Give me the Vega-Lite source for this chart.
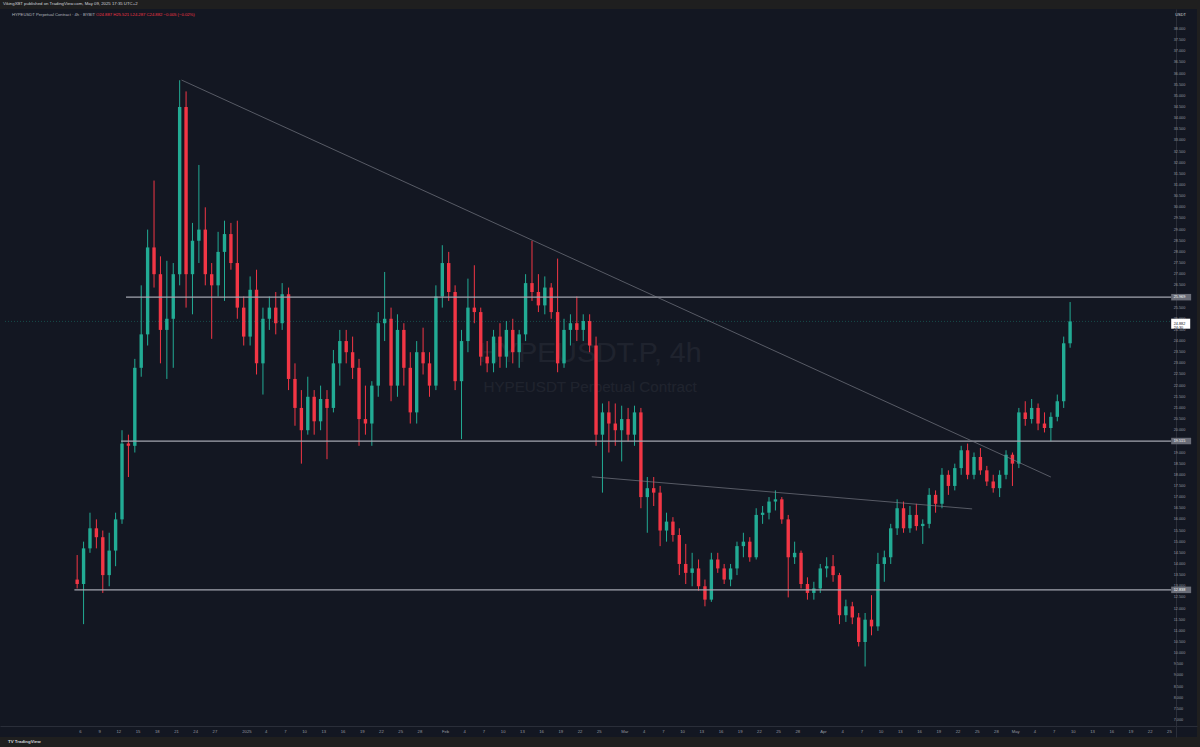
{
  "$schema": "https://vega.github.io/schema/vega-lite/v6.json",
  "width": 1197,
  "height": 728,
  "autosize": {"type": "none"},
  "padding": {"left": 0, "top": 9, "right": 3, "bottom": 10},
  "background": "#1f1f1f",
  "config": {
    "view": {"fill": "#131722", "stroke": null},
    "font": "Liberation Sans",
    "axisX": {"offset": -11, "ticks": false, "grid": false, "labels": false, "domainColor": "#2a2e39"},
    "axisY": {"offset": -21, "ticks": false, "grid": false, "labels": false, "domainColor": "#2a2e39"}
  },
  "title": {"text": "VikingXBT published on TradingView.com, May 09, 2025 17:35 UTC+2", "anchor": "start", "fontSize": 4.3, "color": "#d1d4dc", "fontWeight": "normal", "offset": 2.3, "dx": 3, "font": "Liberation Sans"},
  "datasets": {
    "candles": [
      {"t": "2024-12-05T12:00:00", "o": 13.3, "h": 14.4, "l": 12.9, "c": 13.1},
      {"t": "2024-12-06T12:00:00", "o": 13.1, "h": 15.0, "l": 11.3, "c": 14.7},
      {"t": "2024-12-07T12:00:00", "o": 14.7, "h": 16.3, "l": 14.5, "c": 15.6},
      {"t": "2024-12-08T12:00:00", "o": 15.6, "h": 16.0, "l": 14.7, "c": 15.2},
      {"t": "2024-12-09T12:00:00", "o": 15.2, "h": 15.5, "l": 12.7, "c": 13.5},
      {"t": "2024-12-10T12:00:00", "o": 13.5, "h": 15.4, "l": 13.0, "c": 14.6},
      {"t": "2024-12-11T12:00:00", "o": 14.6, "h": 16.3, "l": 13.9, "c": 16.0},
      {"t": "2024-12-12T12:00:00", "o": 16.0, "h": 20.0, "l": 15.8, "c": 19.4},
      {"t": "2024-12-13T12:00:00", "o": 19.4, "h": 19.8, "l": 17.9, "c": 19.3},
      {"t": "2024-12-14T12:00:00", "o": 19.3, "h": 23.2, "l": 19.0, "c": 22.8},
      {"t": "2024-12-15T12:00:00", "o": 22.8, "h": 26.5, "l": 22.4, "c": 24.3},
      {"t": "2024-12-16T12:00:00", "o": 24.3, "h": 29.0, "l": 23.8, "c": 28.2},
      {"t": "2024-12-17T12:00:00", "o": 28.2, "h": 31.2, "l": 26.4, "c": 27.0},
      {"t": "2024-12-18T12:00:00", "o": 27.0, "h": 27.8, "l": 23.0, "c": 24.5},
      {"t": "2024-12-19T12:00:00", "o": 24.5, "h": 27.6, "l": 22.3, "c": 25.0},
      {"t": "2024-12-20T12:00:00", "o": 25.0, "h": 27.5, "l": 22.8, "c": 27.0},
      {"t": "2024-12-21T12:00:00", "o": 27.0, "h": 35.7, "l": 26.5, "c": 34.5},
      {"t": "2024-12-22T12:00:00", "o": 34.5, "h": 35.2, "l": 25.5, "c": 27.0},
      {"t": "2024-12-23T12:00:00", "o": 27.0, "h": 29.3, "l": 25.2, "c": 28.5},
      {"t": "2024-12-24T12:00:00", "o": 28.5, "h": 31.9, "l": 27.5, "c": 29.0},
      {"t": "2024-12-25T12:00:00", "o": 29.0, "h": 30.0, "l": 26.5, "c": 27.0},
      {"t": "2024-12-26T12:00:00", "o": 27.0, "h": 27.5, "l": 24.1, "c": 26.5},
      {"t": "2024-12-27T12:00:00", "o": 26.5, "h": 28.9, "l": 26.0, "c": 28.0},
      {"t": "2024-12-28T12:00:00", "o": 28.0, "h": 29.4, "l": 25.8, "c": 28.8},
      {"t": "2024-12-29T12:00:00", "o": 28.8, "h": 29.3, "l": 27.2, "c": 27.5},
      {"t": "2024-12-30T12:00:00", "o": 27.5, "h": 29.4, "l": 25.0, "c": 25.5},
      {"t": "2024-12-31T12:00:00", "o": 25.5, "h": 26.0, "l": 23.8, "c": 24.2},
      {"t": "2025-01-01T12:00:00", "o": 24.2, "h": 26.9, "l": 23.8, "c": 26.3},
      {"t": "2025-01-02T12:00:00", "o": 26.3, "h": 27.2, "l": 22.5, "c": 23.0},
      {"t": "2025-01-03T12:00:00", "o": 23.0, "h": 25.5, "l": 21.6, "c": 25.0},
      {"t": "2025-01-04T12:00:00", "o": 25.0, "h": 26.0, "l": 24.5, "c": 25.5},
      {"t": "2025-01-05T12:00:00", "o": 25.5, "h": 26.2, "l": 24.3, "c": 24.8},
      {"t": "2025-01-06T12:00:00", "o": 24.8, "h": 26.6, "l": 24.5, "c": 26.1},
      {"t": "2025-01-07T12:00:00", "o": 26.1, "h": 26.4, "l": 21.8, "c": 22.3},
      {"t": "2025-01-08T12:00:00", "o": 22.3, "h": 23.0, "l": 20.2, "c": 21.0},
      {"t": "2025-01-09T12:00:00", "o": 21.0, "h": 21.8, "l": 18.5, "c": 20.0},
      {"t": "2025-01-10T12:00:00", "o": 20.0, "h": 22.4, "l": 19.8, "c": 21.5},
      {"t": "2025-01-11T12:00:00", "o": 21.5, "h": 21.8, "l": 19.8, "c": 20.4},
      {"t": "2025-01-12T12:00:00", "o": 20.4, "h": 22.0, "l": 20.0, "c": 21.4},
      {"t": "2025-01-13T12:00:00", "o": 21.4, "h": 21.8, "l": 18.7, "c": 21.0},
      {"t": "2025-01-14T12:00:00", "o": 21.0, "h": 23.6, "l": 20.8, "c": 23.0},
      {"t": "2025-01-15T12:00:00", "o": 23.0, "h": 24.5, "l": 22.0, "c": 24.0},
      {"t": "2025-01-16T12:00:00", "o": 24.0, "h": 24.5, "l": 23.0, "c": 23.5},
      {"t": "2025-01-17T12:00:00", "o": 23.5, "h": 24.2, "l": 22.3, "c": 22.8},
      {"t": "2025-01-18T12:00:00", "o": 22.8, "h": 23.2, "l": 19.3, "c": 20.5},
      {"t": "2025-01-19T12:00:00", "o": 20.5, "h": 22.0, "l": 19.8, "c": 20.3},
      {"t": "2025-01-20T12:00:00", "o": 20.3, "h": 22.2, "l": 19.3, "c": 22.0},
      {"t": "2025-01-21T12:00:00", "o": 22.0, "h": 25.3, "l": 21.5, "c": 24.8},
      {"t": "2025-01-22T12:00:00", "o": 24.8, "h": 27.1, "l": 24.0, "c": 25.0},
      {"t": "2025-01-23T12:00:00", "o": 25.0, "h": 25.5, "l": 21.3, "c": 22.0},
      {"t": "2025-01-24T12:00:00", "o": 22.0, "h": 25.2, "l": 21.5, "c": 24.5},
      {"t": "2025-01-25T12:00:00", "o": 24.5, "h": 24.8, "l": 22.0, "c": 22.8},
      {"t": "2025-01-26T12:00:00", "o": 22.8, "h": 23.5, "l": 20.3, "c": 20.8},
      {"t": "2025-01-27T12:00:00", "o": 20.8, "h": 24.0, "l": 20.3, "c": 23.5},
      {"t": "2025-01-28T12:00:00", "o": 23.5, "h": 24.6, "l": 22.5, "c": 23.0},
      {"t": "2025-01-29T12:00:00", "o": 23.0, "h": 23.5, "l": 21.5, "c": 22.0},
      {"t": "2025-01-30T12:00:00", "o": 22.0, "h": 26.5, "l": 21.8, "c": 26.0},
      {"t": "2025-01-31T12:00:00", "o": 26.0, "h": 28.3, "l": 25.5, "c": 27.5},
      {"t": "2025-02-01T12:00:00", "o": 27.5, "h": 28.0, "l": 25.8, "c": 26.2},
      {"t": "2025-02-02T12:00:00", "o": 26.2, "h": 26.5, "l": 21.8, "c": 22.2},
      {"t": "2025-02-03T12:00:00", "o": 22.2, "h": 24.5, "l": 19.6, "c": 24.0},
      {"t": "2025-02-04T12:00:00", "o": 24.0, "h": 26.8, "l": 23.5, "c": 25.5},
      {"t": "2025-02-05T12:00:00", "o": 25.5, "h": 27.4, "l": 24.8, "c": 25.3},
      {"t": "2025-02-06T12:00:00", "o": 25.3, "h": 25.5, "l": 22.9, "c": 23.3},
      {"t": "2025-02-07T12:00:00", "o": 23.3, "h": 24.0, "l": 22.6, "c": 23.0},
      {"t": "2025-02-08T12:00:00", "o": 23.0, "h": 24.5, "l": 22.6, "c": 24.2},
      {"t": "2025-02-09T12:00:00", "o": 24.2, "h": 24.8, "l": 22.8, "c": 23.3},
      {"t": "2025-02-10T12:00:00", "o": 23.3, "h": 24.9, "l": 22.8, "c": 24.5},
      {"t": "2025-02-11T12:00:00", "o": 24.5, "h": 25.0, "l": 23.0, "c": 23.5},
      {"t": "2025-02-12T12:00:00", "o": 23.5, "h": 24.5, "l": 22.8, "c": 24.3},
      {"t": "2025-02-13T12:00:00", "o": 24.3, "h": 27.0, "l": 24.0, "c": 26.6},
      {"t": "2025-02-14T12:00:00", "o": 26.6, "h": 28.5, "l": 25.8, "c": 26.2},
      {"t": "2025-02-15T12:00:00", "o": 26.2, "h": 27.0, "l": 25.3, "c": 25.6},
      {"t": "2025-02-16T12:00:00", "o": 25.6, "h": 26.9, "l": 25.2, "c": 26.4},
      {"t": "2025-02-17T12:00:00", "o": 26.4, "h": 26.6, "l": 25.0, "c": 25.3},
      {"t": "2025-02-18T12:00:00", "o": 25.3, "h": 27.7, "l": 22.6, "c": 23.0},
      {"t": "2025-02-19T12:00:00", "o": 23.0, "h": 25.0, "l": 22.8, "c": 24.5},
      {"t": "2025-02-20T12:00:00", "o": 24.5, "h": 25.2, "l": 23.8, "c": 24.8},
      {"t": "2025-02-21T12:00:00", "o": 24.8, "h": 26.0, "l": 24.0, "c": 24.5},
      {"t": "2025-02-22T12:00:00", "o": 24.5, "h": 25.2, "l": 24.0, "c": 24.9},
      {"t": "2025-02-23T12:00:00", "o": 24.9, "h": 25.2, "l": 23.5, "c": 23.8},
      {"t": "2025-02-24T12:00:00", "o": 23.8, "h": 24.2, "l": 19.3, "c": 19.8},
      {"t": "2025-02-25T12:00:00", "o": 19.8, "h": 21.2, "l": 17.2, "c": 20.8},
      {"t": "2025-02-26T12:00:00", "o": 20.8, "h": 21.3, "l": 19.0, "c": 20.3},
      {"t": "2025-02-27T12:00:00", "o": 20.3, "h": 21.2, "l": 19.3, "c": 20.0},
      {"t": "2025-02-28T12:00:00", "o": 20.0, "h": 21.1, "l": 18.6, "c": 20.5},
      {"t": "2025-03-01T12:00:00", "o": 20.5, "h": 21.0, "l": 19.5, "c": 19.8},
      {"t": "2025-03-02T12:00:00", "o": 19.8, "h": 21.1, "l": 19.3, "c": 20.8},
      {"t": "2025-03-03T12:00:00", "o": 20.8, "h": 21.0, "l": 16.5, "c": 17.0},
      {"t": "2025-03-04T12:00:00", "o": 17.0, "h": 17.9, "l": 15.4, "c": 17.4},
      {"t": "2025-03-05T12:00:00", "o": 17.4, "h": 17.9, "l": 16.6, "c": 17.2},
      {"t": "2025-03-06T12:00:00", "o": 17.2, "h": 17.5, "l": 14.8, "c": 15.5},
      {"t": "2025-03-07T12:00:00", "o": 15.5, "h": 16.3, "l": 15.0, "c": 15.9},
      {"t": "2025-03-08T12:00:00", "o": 15.9, "h": 16.1, "l": 15.0, "c": 15.3},
      {"t": "2025-03-09T12:00:00", "o": 15.3, "h": 15.6, "l": 13.5, "c": 14.0},
      {"t": "2025-03-10T12:00:00", "o": 14.0, "h": 14.9, "l": 13.1, "c": 13.6},
      {"t": "2025-03-11T12:00:00", "o": 13.6, "h": 14.5, "l": 13.0, "c": 13.8},
      {"t": "2025-03-12T12:00:00", "o": 13.8, "h": 14.2, "l": 12.8, "c": 13.0},
      {"t": "2025-03-13T12:00:00", "o": 13.0, "h": 13.3, "l": 12.1, "c": 12.4},
      {"t": "2025-03-14T12:00:00", "o": 12.4, "h": 14.5, "l": 12.3, "c": 14.2},
      {"t": "2025-03-15T12:00:00", "o": 14.2, "h": 14.5, "l": 13.6, "c": 13.8},
      {"t": "2025-03-16T12:00:00", "o": 13.8, "h": 14.0, "l": 13.1, "c": 13.3},
      {"t": "2025-03-17T12:00:00", "o": 13.3, "h": 14.0, "l": 13.0, "c": 13.8},
      {"t": "2025-03-18T12:00:00", "o": 13.8, "h": 15.0, "l": 13.5, "c": 14.8},
      {"t": "2025-03-19T12:00:00", "o": 14.8, "h": 15.4, "l": 14.3, "c": 15.0},
      {"t": "2025-03-20T12:00:00", "o": 15.0, "h": 15.2, "l": 14.1, "c": 14.3},
      {"t": "2025-03-21T12:00:00", "o": 14.3, "h": 16.5, "l": 14.2, "c": 16.2},
      {"t": "2025-03-22T12:00:00", "o": 16.2, "h": 16.6, "l": 15.8, "c": 16.3},
      {"t": "2025-03-23T12:00:00", "o": 16.3, "h": 17.0, "l": 16.0, "c": 16.8},
      {"t": "2025-03-24T12:00:00", "o": 16.8, "h": 17.3, "l": 16.4, "c": 16.9},
      {"t": "2025-03-25T12:00:00", "o": 16.9, "h": 17.0, "l": 15.8, "c": 16.0},
      {"t": "2025-03-26T12:00:00", "o": 16.0, "h": 16.2, "l": 12.5, "c": 14.3},
      {"t": "2025-03-27T12:00:00", "o": 14.3, "h": 15.0, "l": 14.0, "c": 14.5},
      {"t": "2025-03-28T12:00:00", "o": 14.5, "h": 14.6, "l": 12.9, "c": 13.1},
      {"t": "2025-03-29T12:00:00", "o": 13.1, "h": 13.4, "l": 12.4, "c": 12.7},
      {"t": "2025-03-30T12:00:00", "o": 12.7, "h": 13.2, "l": 12.4, "c": 12.9},
      {"t": "2025-03-31T12:00:00", "o": 12.9, "h": 14.0, "l": 12.7, "c": 13.8},
      {"t": "2025-04-01T12:00:00", "o": 13.8, "h": 14.3, "l": 13.4, "c": 13.9},
      {"t": "2025-04-02T12:00:00", "o": 13.9, "h": 14.4, "l": 13.2, "c": 13.5},
      {"t": "2025-04-03T12:00:00", "o": 13.5, "h": 13.6, "l": 11.3, "c": 11.7},
      {"t": "2025-04-04T12:00:00", "o": 11.7, "h": 12.4, "l": 11.4, "c": 12.1},
      {"t": "2025-04-05T12:00:00", "o": 12.1, "h": 12.3, "l": 11.3, "c": 11.6},
      {"t": "2025-04-06T12:00:00", "o": 11.6, "h": 11.8, "l": 10.3, "c": 10.5},
      {"t": "2025-04-07T12:00:00", "o": 10.5, "h": 11.8, "l": 9.4, "c": 11.5},
      {"t": "2025-04-08T12:00:00", "o": 11.5, "h": 12.6, "l": 10.8, "c": 11.2},
      {"t": "2025-04-09T12:00:00", "o": 11.2, "h": 14.5, "l": 11.0, "c": 14.0},
      {"t": "2025-04-10T12:00:00", "o": 14.0, "h": 14.6, "l": 13.2, "c": 14.3},
      {"t": "2025-04-11T12:00:00", "o": 14.3, "h": 15.8, "l": 14.0, "c": 15.6},
      {"t": "2025-04-12T12:00:00", "o": 15.6, "h": 16.9, "l": 15.3, "c": 16.5},
      {"t": "2025-04-13T12:00:00", "o": 16.5, "h": 16.8, "l": 15.4, "c": 15.6},
      {"t": "2025-04-14T12:00:00", "o": 15.6, "h": 16.6, "l": 15.4, "c": 16.2},
      {"t": "2025-04-15T12:00:00", "o": 16.2, "h": 16.7, "l": 15.5, "c": 15.7},
      {"t": "2025-04-16T12:00:00", "o": 15.7, "h": 16.0, "l": 14.9, "c": 15.8},
      {"t": "2025-04-17T12:00:00", "o": 15.8, "h": 17.4, "l": 15.6, "c": 17.1},
      {"t": "2025-04-18T12:00:00", "o": 17.1, "h": 17.3, "l": 16.3, "c": 16.7},
      {"t": "2025-04-19T12:00:00", "o": 16.7, "h": 18.3, "l": 16.5, "c": 18.0},
      {"t": "2025-04-20T12:00:00", "o": 18.0, "h": 18.2, "l": 17.1, "c": 17.5},
      {"t": "2025-04-21T12:00:00", "o": 17.5, "h": 18.5, "l": 17.3, "c": 18.3},
      {"t": "2025-04-22T12:00:00", "o": 18.3, "h": 19.3, "l": 18.0, "c": 19.1},
      {"t": "2025-04-23T12:00:00", "o": 19.1, "h": 19.4, "l": 17.8, "c": 18.0},
      {"t": "2025-04-24T12:00:00", "o": 18.0, "h": 19.0, "l": 17.8, "c": 18.8},
      {"t": "2025-04-25T12:00:00", "o": 18.8, "h": 19.2, "l": 18.0, "c": 18.2},
      {"t": "2025-04-26T12:00:00", "o": 18.2, "h": 18.4, "l": 17.5, "c": 17.7},
      {"t": "2025-04-27T12:00:00", "o": 17.7, "h": 18.0, "l": 17.2, "c": 17.4},
      {"t": "2025-04-28T12:00:00", "o": 17.4, "h": 18.2, "l": 17.0, "c": 18.0},
      {"t": "2025-04-29T12:00:00", "o": 18.0, "h": 19.1, "l": 17.8, "c": 18.9},
      {"t": "2025-04-30T12:00:00", "o": 18.9, "h": 19.0, "l": 17.5, "c": 18.5},
      {"t": "2025-05-01T12:00:00", "o": 18.5, "h": 21.0, "l": 18.3, "c": 20.8},
      {"t": "2025-05-02T12:00:00", "o": 20.8, "h": 21.3, "l": 20.2, "c": 20.5},
      {"t": "2025-05-03T12:00:00", "o": 20.5, "h": 21.4, "l": 20.3, "c": 21.0},
      {"t": "2025-05-04T12:00:00", "o": 21.0, "h": 21.2, "l": 20.0, "c": 20.3},
      {"t": "2025-05-05T12:00:00", "o": 20.3, "h": 20.8, "l": 19.9, "c": 20.1},
      {"t": "2025-05-06T12:00:00", "o": 20.1, "h": 20.8, "l": 19.5, "c": 20.6},
      {"t": "2025-05-07T12:00:00", "o": 20.6, "h": 21.6, "l": 20.4, "c": 21.3},
      {"t": "2025-05-08T12:00:00", "o": 21.3, "h": 24.2, "l": 21.0, "c": 23.9},
      {"t": "2025-05-09T12:00:00", "o": 23.9, "h": 25.75, "l": 23.7, "c": 24.882}
    ],
    "rays": [
      {"start": "2024-12-13T03:00:00", "level": 25.969},
      {"start": "2024-12-12T08:30:00", "level": 19.515},
      {"start": "2024-12-05T01:40:00", "level": 12.838}
    ],
    "trends": [
      {"ts": "2024-12-21T19:00:00", "ps": 35.71, "te": "2025-05-06T12:00:00", "pe": 17.90},
      {"ts": "2025-02-23T20:00:00", "ps": 17.91, "te": "2025-04-24T05:00:00", "pe": 16.47}
    ],
    "tags": [
      {"level": 25.969, "label": "25.969"},
      {"level": 19.515, "label": "19.515"},
      {"level": 12.838, "label": "12.838"}
    ],
    "xt": [
      {"d": "2024-12-06T00:00:00", "lab": "6"}, {"d": "2024-12-09T00:00:00", "lab": "9"}, {"d": "2024-12-12T00:00:00", "lab": "12"}, {"d": "2024-12-15T00:00:00", "lab": "15"}, {"d": "2024-12-18T00:00:00", "lab": "18"}, {"d": "2024-12-21T00:00:00", "lab": "21"}, {"d": "2024-12-24T00:00:00", "lab": "24"}, {"d": "2024-12-27T00:00:00", "lab": "27"},
      {"d": "2025-01-01T00:00:00", "lab": "2025"}, {"d": "2025-01-04T00:00:00", "lab": "4"}, {"d": "2025-01-07T00:00:00", "lab": "7"}, {"d": "2025-01-10T00:00:00", "lab": "10"}, {"d": "2025-01-13T00:00:00", "lab": "13"}, {"d": "2025-01-16T00:00:00", "lab": "16"}, {"d": "2025-01-19T00:00:00", "lab": "19"}, {"d": "2025-01-22T00:00:00", "lab": "22"}, {"d": "2025-01-25T00:00:00", "lab": "25"}, {"d": "2025-01-28T00:00:00", "lab": "28"},
      {"d": "2025-02-01T00:00:00", "lab": "Feb"}, {"d": "2025-02-04T00:00:00", "lab": "4"}, {"d": "2025-02-07T00:00:00", "lab": "7"}, {"d": "2025-02-10T00:00:00", "lab": "10"}, {"d": "2025-02-13T00:00:00", "lab": "13"}, {"d": "2025-02-16T00:00:00", "lab": "16"}, {"d": "2025-02-19T00:00:00", "lab": "19"}, {"d": "2025-02-22T00:00:00", "lab": "22"}, {"d": "2025-02-25T00:00:00", "lab": "25"},
      {"d": "2025-03-01T00:00:00", "lab": "Mar"}, {"d": "2025-03-04T00:00:00", "lab": "4"}, {"d": "2025-03-07T00:00:00", "lab": "7"}, {"d": "2025-03-10T00:00:00", "lab": "10"}, {"d": "2025-03-13T00:00:00", "lab": "13"}, {"d": "2025-03-16T00:00:00", "lab": "16"}, {"d": "2025-03-19T00:00:00", "lab": "19"}, {"d": "2025-03-22T00:00:00", "lab": "22"}, {"d": "2025-03-25T00:00:00", "lab": "25"}, {"d": "2025-03-28T00:00:00", "lab": "28"},
      {"d": "2025-04-01T00:00:00", "lab": "Apr"}, {"d": "2025-04-04T00:00:00", "lab": "4"}, {"d": "2025-04-07T00:00:00", "lab": "7"}, {"d": "2025-04-10T00:00:00", "lab": "10"}, {"d": "2025-04-13T00:00:00", "lab": "13"}, {"d": "2025-04-16T00:00:00", "lab": "16"}, {"d": "2025-04-19T00:00:00", "lab": "19"}, {"d": "2025-04-22T00:00:00", "lab": "22"}, {"d": "2025-04-25T00:00:00", "lab": "25"}, {"d": "2025-04-28T00:00:00", "lab": "28"},
      {"d": "2025-05-01T00:00:00", "lab": "May"}, {"d": "2025-05-04T00:00:00", "lab": "4"}, {"d": "2025-05-07T00:00:00", "lab": "7"}, {"d": "2025-05-10T00:00:00", "lab": "10"}, {"d": "2025-05-13T00:00:00", "lab": "13"}, {"d": "2025-05-16T00:00:00", "lab": "16"}, {"d": "2025-05-19T00:00:00", "lab": "19"}, {"d": "2025-05-22T00:00:00", "lab": "22"}, {"d": "2025-05-25T00:00:00", "lab": "25"}
    ],
    "yt": [
      {"v": 7}, {"v": 7.5}, {"v": 8}, {"v": 8.5}, {"v": 9}, {"v": 9.5}, {"v": 10}, {"v": 10.5}, {"v": 11}, {"v": 11.5}, {"v": 12}, {"v": 12.5}, {"v": 13}, {"v": 13.5}, {"v": 14}, {"v": 14.5}, {"v": 15}, {"v": 15.5}, {"v": 16}, {"v": 16.5}, {"v": 17}, {"v": 17.5}, {"v": 18}, {"v": 18.5}, {"v": 19}, {"v": 19.5}, {"v": 20}, {"v": 20.5}, {"v": 21}, {"v": 21.5}, {"v": 22}, {"v": 22.5}, {"v": 23}, {"v": 23.5}, {"v": 24}, {"v": 24.5}, {"v": 25}, {"v": 25.5}, {"v": 26}, {"v": 26.5}, {"v": 27}, {"v": 27.5}, {"v": 28}, {"v": 28.5}, {"v": 29}, {"v": 29.5}, {"v": 30}, {"v": 30.5}, {"v": 31}, {"v": 31.5}, {"v": 32}, {"v": 32.5}, {"v": 33}, {"v": 33.5}, {"v": 34}, {"v": 34.5}, {"v": 35}, {"v": 35.5}, {"v": 36}, {"v": 36.5}, {"v": 37}, {"v": 37.5}, {"v": 38}
    ],
    "one": [{"k": 1}]
  },
  "layer": [
    {
      "data": {"name": "one"},
      "mark": {"type": "text", "fontSize": 28.5, "color": "#ffffff", "opacity": 0.05, "align": "center", "baseline": "middle", "font": "Liberation Sans"},
      "encoding": {
        "x": {"datum": {"year": 2025, "month": 2, "date": 23, "hours": 13, "minutes": 40}, "type": "temporal", "title": null},
        "y": {"datum": 23.46, "type": "quantitative", "title": null, "axis": {"orient": "right"}},
        "text": {"value": "HYPEUSDT.P, 4h"}
      }
    },
    {
      "data": {"name": "one"},
      "mark": {"type": "text", "fontSize": 15.2, "color": "#ffffff", "opacity": 0.05, "align": "center", "baseline": "middle", "font": "Liberation Sans"},
      "encoding": {
        "x": {"datum": {"year": 2025, "month": 2, "date": 23, "hours": 13, "minutes": 40}, "type": "temporal", "title": null},
        "y": {"datum": 21.94, "type": "quantitative", "title": null, "axis": {"orient": "right"}},
        "text": {"value": "HYPEUSDT Perpetual Contract"}
      }
    },
    {
      "data": {"name": "candles"},
      "mark": {"type": "rule", "strokeWidth": 1},
      "encoding": {
        "x": {"field": "t", "type": "temporal", "title": null,
          "scale": {"domain": [{"year": 2024, "month": 11, "date": 24, "hours": 5, "minutes": 38}, {"year": 2025, "month": 5, "date": 28, "hours": 12, "minutes": 43}], "nice": false},
          "axis": {"orient": "bottom", "title": null}
        },
        "y": {"field": "l", "type": "quantitative", "title": null,
          "scale": {"domain": [6.237, 38.897], "nice": false, "zero": false},
          "axis": {"orient": "right", "title": null}
        },
        "y2": {"field": "h"},
        "color": {"condition": {"test": "datum.c >= datum.o", "value": "#22ab94"}, "value": "#f23645"}
      }
    },
    {
      "data": {"name": "candles"},
      "mark": {"type": "bar", "width": 3.4},
      "encoding": {
        "x": {"field": "t", "type": "temporal", "title": null},
        "y": {"field": "o", "type": "quantitative", "title": null, "axis": {"orient": "right"}},
        "y2": {"field": "c"},
        "color": {"condition": {"test": "datum.c >= datum.o", "value": "#22ab94"}, "value": "#f23645"}
      }
    },
    {
      "data": {"name": "one"},
      "mark": {"type": "rule", "strokeWidth": 0.8, "strokeDash": [1, 2], "color": "#22ab94", "opacity": 0.45},
      "encoding": {
        "x": {"datum": {"year": 2024, "month": 11, "date": 24, "hours": 5, "minutes": 38}, "type": "temporal", "title": null},
        "x2": {"datum": {"year": 2025, "month": 5, "date": 25, "hours": 6, "minutes": 45}},
        "y": {"datum": 24.882, "type": "quantitative", "title": null, "axis": {"orient": "right"}}
      }
    },
    {
      "data": {"name": "rays"},
      "mark": {"type": "rule", "strokeWidth": 1.2, "color": "#a3a6af"},
      "encoding": {
        "x": {"field": "start", "type": "temporal", "title": null},
        "x2": {"datum": {"year": 2025, "month": 5, "date": 25, "hours": 6, "minutes": 45}},
        "y": {"field": "level", "type": "quantitative", "title": null, "axis": {"orient": "right"}}
      }
    },
    {
      "data": {"name": "trends"},
      "mark": {"type": "rule", "strokeWidth": 0.8, "color": "#787b86", "opacity": 0.85},
      "encoding": {
        "x": {"field": "ts", "type": "temporal", "title": null},
        "x2": {"field": "te"},
        "y": {"field": "ps", "type": "quantitative", "title": null, "axis": {"orient": "right"}},
        "y2": {"field": "pe"}
      }
    },
    {
      "data": {"name": "xt"},
      "mark": {"type": "text", "fontSize": 4.2, "color": "#9598a1", "align": "center", "baseline": "middle", "font": "Liberation Sans"},
      "encoding": {
        "x": {"field": "d", "type": "temporal", "title": null},
        "y": {"datum": 6.46, "type": "quantitative", "title": null, "axis": {"orient": "right"}},
        "text": {"field": "lab"}
      }
    },
    {
      "data": {"name": "yt"},
      "mark": {"type": "text", "fontSize": 3.8, "color": "#9598a1", "align": "left", "baseline": "middle", "dx": 2.5, "font": "Liberation Sans"},
      "encoding": {
        "x": {"datum": {"year": 2025, "month": 5, "date": 25, "hours": 6, "minutes": 45}, "type": "temporal", "title": null},
        "y": {"field": "v", "type": "quantitative", "title": null, "axis": {"orient": "right"}},
        "text": {"field": "v", "type": "quantitative", "format": ".3f"}
      }
    },
    {
      "data": {"name": "tags"},
      "mark": {"type": "rect", "height": 6.5, "color": "#6a6d78"},
      "encoding": {
        "x": {"datum": {"year": 2025, "month": 5, "date": 25, "hours": 6, "minutes": 45}, "type": "temporal", "title": null},
        "x2": {"datum": {"year": 2025, "month": 5, "date": 28, "hours": 9, "minutes": 30}},
        "y": {"field": "level", "type": "quantitative", "title": null, "axis": {"orient": "right"}}
      }
    },
    {
      "data": {"name": "tags"},
      "mark": {"type": "text", "fontSize": 3.8, "color": "#ffffff", "align": "left", "baseline": "middle", "dx": 2.5, "font": "Liberation Sans"},
      "encoding": {
        "x": {"datum": {"year": 2025, "month": 5, "date": 25, "hours": 6, "minutes": 45}, "type": "temporal", "title": null},
        "y": {"field": "level", "type": "quantitative", "title": null, "axis": {"orient": "right"}},
        "text": {"field": "label"}
      }
    },
    {
      "data": {"name": "one"},
      "mark": {"type": "rect", "height": 10, "color": "#ffffff", "yOffset": 2.3},
      "encoding": {
        "x": {"datum": {"year": 2025, "month": 5, "date": 25, "hours": 6, "minutes": 45}, "type": "temporal", "title": null},
        "x2": {"datum": {"year": 2025, "month": 5, "date": 28, "hours": 6, "minutes": 0}},
        "y": {"datum": 24.882, "type": "quantitative", "title": null, "axis": {"orient": "right"}}
      }
    },
    {
      "data": {"name": "one"},
      "mark": {"type": "text", "fontSize": 3.8, "color": "#131722", "align": "left", "baseline": "middle", "dx": 2.5, "lineHeight": 4.8, "yOffset": 2.3, "font": "Liberation Sans"},
      "encoding": {
        "x": {"datum": {"year": 2025, "month": 5, "date": 25, "hours": 6, "minutes": 45}, "type": "temporal", "title": null},
        "y": {"datum": 24.882, "type": "quantitative", "title": null, "axis": {"orient": "right"}},
        "text": {"value": ["24.882", "24:30"]}
      }
    },
    {
      "data": {"name": "one"},
      "mark": {"type": "text", "fontSize": 4, "color": "#d1d4dc", "align": "center", "baseline": "middle", "font": "Liberation Sans"},
      "encoding": {
        "x": {"datum": {"year": 2025, "month": 5, "date": 26, "hours": 18, "minutes": 0}, "type": "temporal", "title": null},
        "y": {"datum": 38.65, "type": "quantitative", "title": null, "axis": {"orient": "right"}},
        "text": {"value": "USDT"}
      }
    },
    {
      "data": {"name": "one"},
      "mark": {"type": "text", "fontSize": 4.2, "color": "#b2b5be", "align": "left", "baseline": "middle", "dx": 7, "font": "Liberation Sans"},
      "encoding": {
        "x": {"datum": {"year": 2024, "month": 11, "date": 24, "hours": 5, "minutes": 38}, "type": "temporal", "title": null},
        "y": {"datum": 38.63, "type": "quantitative", "title": null, "axis": {"orient": "right"}},
        "text": {"value": "HYPEUSDT Perpetual Contract · 4h · BYBIT"}
      }
    },
    {
      "data": {"name": "one"},
      "mark": {"type": "text", "fontSize": 4.2, "color": "#f23645", "align": "left", "baseline": "middle", "dx": 91, "font": "Liberation Sans"},
      "encoding": {
        "x": {"datum": {"year": 2024, "month": 11, "date": 24, "hours": 5, "minutes": 38}, "type": "temporal", "title": null},
        "y": {"datum": 38.63, "type": "quantitative", "title": null, "axis": {"orient": "right"}},
        "text": {"value": "O24.887 H25.521 L24.287 C24.882 −0.005 (−0.02%)"}
      }
    },
    {
      "data": {"name": "one"},
      "mark": {"type": "text", "fontSize": 4.4, "fontWeight": "bold", "color": "#d1d4dc", "align": "left", "baseline": "middle", "dx": 3, "font": "Liberation Sans"},
      "encoding": {
        "x": {"datum": {"year": 2024, "month": 11, "date": 24, "hours": 5, "minutes": 38}, "type": "temporal", "title": null},
        "y": {"datum": 6.01, "type": "quantitative", "title": null, "axis": {"orient": "right"}},
        "text": {"value": "TV TradingView"}
      }
    }
  ]
}
